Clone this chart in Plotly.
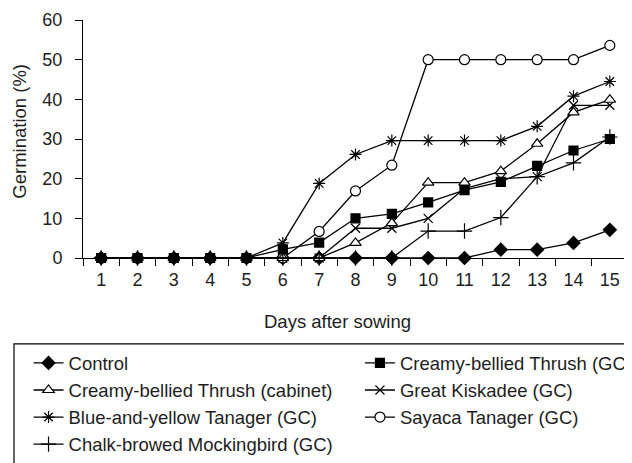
import plotly.graph_objects as go

days = [str(d) for d in range(1, 16)]

control = [0, 0, 0, 0, 0, 0, 0, 0, 0, 0, 0, 2.1, 2.1, 3.8, 7.1]
cbt_gc = [0, 0, 0, 0, 0, 2.2, 3.9, 10.0, 11.1, 14.0, 17.1, 19.2, 23.2, 27.1, 30.0]
cbt_cab = [0, 0, 0, 0, 0, 0, 0, 3.8, 8.8, 19.0, 19.0, 21.9, 28.8, 36.7, 39.9]
kiskadee = [0, 0, 0, 0, 0, 0, 0, 7.5, 7.5, 10.0, 17.5, 20.0, 20.5, 38.5, 38.5]
blue_yellow = [0, 0, 0, 0, 0, 3.8, 18.8, 26.1, 29.6, 29.6, 29.6, 29.6, 33.2, 40.8, 44.5]
sayaca = [0, 0, 0, 0, 0, 0, 6.7, 16.9, 23.4, 50.0, 50.0, 50.0, 50.0, 50.0, 53.6]
chalk = [0, 0, 0, 0, 0, 0, 0, 0, 0, 6.8, 6.8, 10.2, 20.5, 24.0, 30.5]

FONT = "Liberation Sans, Arial, sans-serif"
TXT = "#1e1e1e"

# (name, values, symbol, size, fill, legend, rank) in drawing order
series = [
    ("Control", control, "diamond", 10, "black", "legend", 1),
    ("Great Kiskadee (GC)", kiskadee, "x-thin-open", 9, "black", "legend2", 2),
    ("Blue-and-yellow Tanager (GC)", blue_yellow, "asterisk-open", 10, "black", "legend", 3),
    ("Sayaca Tanager (GC)", sayaca, "circle", 10, "white", "legend2", 3),
    ("Creamy-bellied Thrush (cabinet)", cbt_cab, "triangle-up", 10, "white", "legend", 2),
    ("Chalk-browed Mockingbird (GC)", chalk, "cross-thin-open", 11, "black", "legend", 4),
    ("Creamy-bellied Thrush (GC)", cbt_gc, "square", 9, "black", "legend2", 1),
]

fig = go.Figure()
for name, vals, sym, size, fill, leg, rank in series:
    fig.add_trace(go.Scatter(
        x=days, y=vals, name=name, mode="lines+markers",
        line=dict(color="black", width=1.3),
        marker=dict(symbol=sym, size=size, color=fill,
                    line=dict(color="black", width=1.2)),
        cliponaxis=False, legend=leg, legendrank=rank,
    ))

W, H = 632, 463
OFF = 8  # page body margin offset
# target plot area in window pixels
PL, PR, PT, PB = 83.4, 627.7, 19.5, 258.3
L = PL - OFF
T = PT - OFF
R = W - (PR - OFF)
B = H - (PB - OFF)
pw = W - L - R
ph = H - T - B


def px_x(x):
    return (x - PL) / pw


def px_y(y):
    return (PB - y) / ph


fig.update_layout(
    width=W, height=H,
    margin=dict(l=L, r=R, t=T, b=B, pad=0, autoexpand=False),
    paper_bgcolor="white", plot_bgcolor="white",
    font=dict(family=FONT, size=18, color=TXT),
    xaxis=dict(type="category", range=[-0.5, 14.5], tickson="boundaries",
               ticks="outside", ticklen=7, tickcolor="black", tickwidth=1,
               showline=True, linecolor="black", linewidth=1,
               showgrid=False, zeroline=False, ticklabelstandoff=5,
               tickfont=dict(size=18, color=TXT)),
    yaxis=dict(range=[0, 60], dtick=10, ticks="outside", ticklen=7,
               tickcolor="black", showline=True, linecolor="black",
               linewidth=1, showgrid=False, zeroline=False,
               ticklabelstandoff=9, tickfont=dict(size=18, color=TXT)),
    legend=dict(x=px_x(29), xanchor="left", y=px_y(345), yanchor="top",
                bgcolor="rgba(0,0,0,0)", borderwidth=0,
                font=dict(size=18.5, color=TXT), traceorder="normal"),
    legend2=dict(x=px_x(360), xanchor="left", y=px_y(345), yanchor="top",
                 bgcolor="rgba(0,0,0,0)", borderwidth=0,
                 font=dict(size=18.5, color=TXT), traceorder="normal"),
    showlegend=True,
    annotations=[
        dict(text="Days after sowing", xref="paper", yref="paper",
             x=px_x(338), y=px_y(322), xanchor="center", yanchor="middle",
             showarrow=False, font=dict(size=18.5, color=TXT)),
        dict(text="Germination (%)", xref="paper", yref="paper",
             x=px_x(20), y=px_y(131), xanchor="center", yanchor="middle",
             textangle=-90, showarrow=False, font=dict(size=18.5, color=TXT)),
    ],
    shapes=[
        dict(type="rect", xref="paper", yref="paper",
             x0=px_x(14.5), x1=px_x(660), y0=px_y(344.5), y1=px_y(490),
             line=dict(color="black", width=1.2), fillcolor="rgba(0,0,0,0)"),
    ],
)

fig.write_html("out.html")
